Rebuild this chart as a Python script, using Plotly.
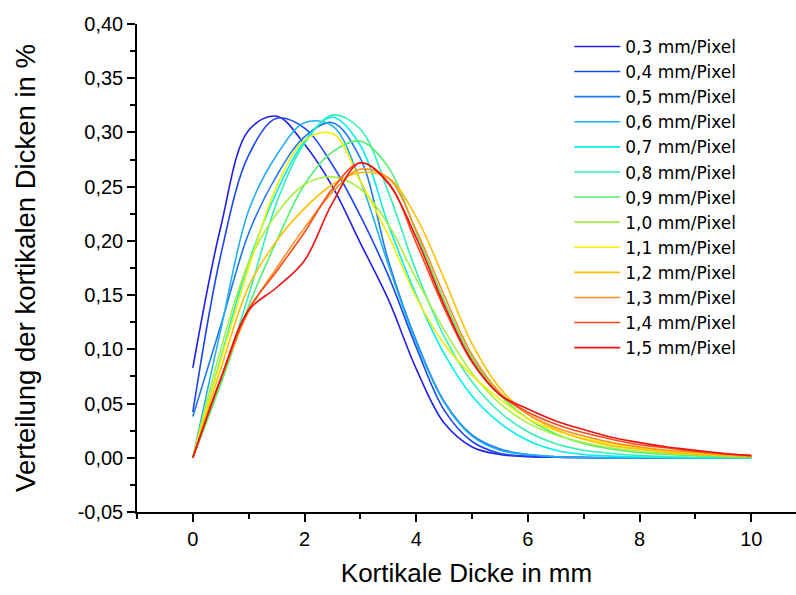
import plotly.graph_objects as go

# ---- data ----
thickness_mm = [0, 0.5, 1, 1.5, 2, 2.5, 3, 3.5, 4, 4.5, 5, 5.5, 6, 6.5, 7, 7.5, 8, 8.5, 9, 9.5, 10]

series_names = ["0,3 mm/Pixel", "0,4 mm/Pixel", "0,5 mm/Pixel", "0,6 mm/Pixel", "0,7 mm/Pixel",
                "0,8 mm/Pixel", "0,9 mm/Pixel", "1,0 mm/Pixel", "1,1 mm/Pixel", "1,2 mm/Pixel",
                "1,3 mm/Pixel", "1,4 mm/Pixel", "1,5 mm/Pixel"]

res_03 = [0.083, 0.213, 0.302, 0.315, 0.289, 0.250, 0.198, 0.146, 0.082, 0.032, 0.010, 0.003, 0.001, 0.0005, 0.0002, 0, 0, 0, 0, 0, 0]
res_04 = [0.042, 0.187, 0.279, 0.313, 0.304, 0.270, 0.223, 0.168, 0.102, 0.044, 0.015, 0.004, 0.0015, 0.0005, 0.0002, 0, 0, 0, 0, 0, 0]
res_05 = [0.038, 0.122, 0.207, 0.260, 0.296, 0.309, 0.276, 0.182, 0.108, 0.052, 0.021, 0.008, 0.003, 0.001, 0.0003, 0, 0, 0, 0, 0, 0]
res_06 = [0, 0.118, 0.228, 0.279, 0.309, 0.306, 0.255, 0.178, 0.106, 0.051, 0.020, 0.007, 0.003, 0.001, 0.0003, 0, 0, 0, 0, 0, 0]
res_07 = [0, 0.092, 0.180, 0.245, 0.292, 0.314, 0.288, 0.215, 0.150, 0.096, 0.057, 0.032, 0.016, 0.007, 0.003, 0.0015, 0.0007, 0.0003, 0, 0, 0]
res_08 = [0, 0.070, 0.150, 0.235, 0.290, 0.316, 0.303, 0.245, 0.172, 0.112, 0.070, 0.042, 0.024, 0.013, 0.007, 0.004, 0.002, 0.001, 0.0005, 0.0002, 0]
res_09 = [0, 0.068, 0.140, 0.200, 0.252, 0.282, 0.292, 0.268, 0.208, 0.145, 0.092, 0.058, 0.036, 0.022, 0.013, 0.008, 0.005, 0.003, 0.002, 0.001, 0.0005]
res_10 = [0, 0.100, 0.180, 0.225, 0.252, 0.259, 0.248, 0.215, 0.165, 0.118, 0.078, 0.050, 0.032, 0.021, 0.014, 0.009, 0.006, 0.004, 0.003, 0.002, 0.001]
res_11 = [0, 0.090, 0.175, 0.250, 0.293, 0.299, 0.255, 0.205, 0.148, 0.105, 0.076, 0.054, 0.036, 0.025, 0.018, 0.013, 0.009, 0.006, 0.004, 0.003, 0.002]
res_12 = [0, 0.082, 0.158, 0.200, 0.230, 0.252, 0.263, 0.258, 0.222, 0.165, 0.105, 0.064, 0.040, 0.026, 0.017, 0.011, 0.008, 0.005, 0.003, 0.002, 0.001]
res_13 = [0, 0.072, 0.135, 0.175, 0.212, 0.245, 0.266, 0.258, 0.210, 0.150, 0.095, 0.060, 0.040, 0.028, 0.020, 0.014, 0.010, 0.007, 0.005, 0.003, 0.0015]
res_14 = [0, 0.073, 0.137, 0.172, 0.208, 0.248, 0.272, 0.254, 0.198, 0.138, 0.088, 0.058, 0.042, 0.031, 0.023, 0.017, 0.012, 0.009, 0.006, 0.004, 0.002]
res_15 = [0, 0.073, 0.136, 0.157, 0.182, 0.235, 0.272, 0.253, 0.203, 0.141, 0.089, 0.058, 0.045, 0.034, 0.026, 0.019, 0.014, 0.010, 0.007, 0.004, 0.002]

series_values = [res_03, res_04, res_05, res_06, res_07, res_08, res_09,
                 res_10, res_11, res_12, res_13, res_14, res_15]

series_colors = ["#2020EC", "#1E46F0", "#1E78F0", "#20B0F0", "#00F0F0", "#30F0B8", "#50F070",
                 "#A8F040", "#F5F000", "#FFC000", "#FF9020", "#FF4818", "#F01010"]

y_tickvals = [-0.05, 0.0, 0.05, 0.10, 0.15, 0.20, 0.25, 0.30, 0.35, 0.40]
y_ticktext = ["-0,05", "0,00", "0,05", "0,10", "0,15", "0,20", "0,25", "0,30", "0,35", "0,40"]
x_tickvals = [0, 2, 4, 6, 8, 10]
x_ticktext = ["0", "2", "4", "6", "8", "10"]

# ---- figure ----
fig = go.Figure()
for i, (name, vals, col) in enumerate(zip(series_names, series_values, series_colors)):
    fig.add_trace(go.Scatter(
        x=thickness_mm, y=vals, name=name, mode="lines",
        line=dict(color=col, width=1.6, shape="spline", smoothing=1.0),
        legendgroup="g%d" % i,
    ))

font_family = "Liberation Sans, Arial, sans-serif"

fig.update_layout(
    width=796, height=595,
    margin=dict(l=137, r=0, t=24, b=83, autoexpand=False),
    paper_bgcolor="white", plot_bgcolor="white",
    font=dict(family=font_family, size=20, color="black"),
    showlegend=True,
    legend=dict(
        x=0.656, y=0.99, xanchor="left", yanchor="top",
        font=dict(family="DejaVu Sans, sans-serif", size=17, color="black"),
        bgcolor="rgba(0,0,0,0)", borderwidth=0,
        tracegroupgap=0, itemwidth=46,
    ),
    xaxis=dict(
        range=[-1, 10.8], showgrid=False, zeroline=False,
        showline=True, linecolor="black", linewidth=1.5,
        tickmode="array", tickvals=x_tickvals, ticktext=x_ticktext,
        ticks="outside", ticklen=8, tickwidth=1.5, tickcolor="black",
        tickfont=dict(size=20),
        minor=dict(dtick=1, tick0=0, ticks="outside", ticklen=5, tickwidth=1.5, tickcolor="black", showgrid=False),
        title=dict(text="Kortikale Dicke in mm", font=dict(size=26), standoff=15),
        automargin=False,
    ),
    yaxis=dict(
        range=[-0.05, 0.40], showgrid=False, zeroline=False,
        showline=True, linecolor="black", linewidth=1.5,
        tickmode="array", tickvals=y_tickvals, ticktext=y_ticktext,
        ticks="outside", ticklen=8, tickwidth=1.5, tickcolor="black",
        tickfont=dict(size=20),
        minor=dict(dtick=0.025, tick0=0, ticks="outside", ticklen=5, tickwidth=1.5, tickcolor="black", showgrid=False),
        title=dict(text="Verteilung der kortikalen Dicken in %", font=dict(size=27.5), standoff=34),
        automargin=False,
    ),
)

fig.write_html("out.html")
